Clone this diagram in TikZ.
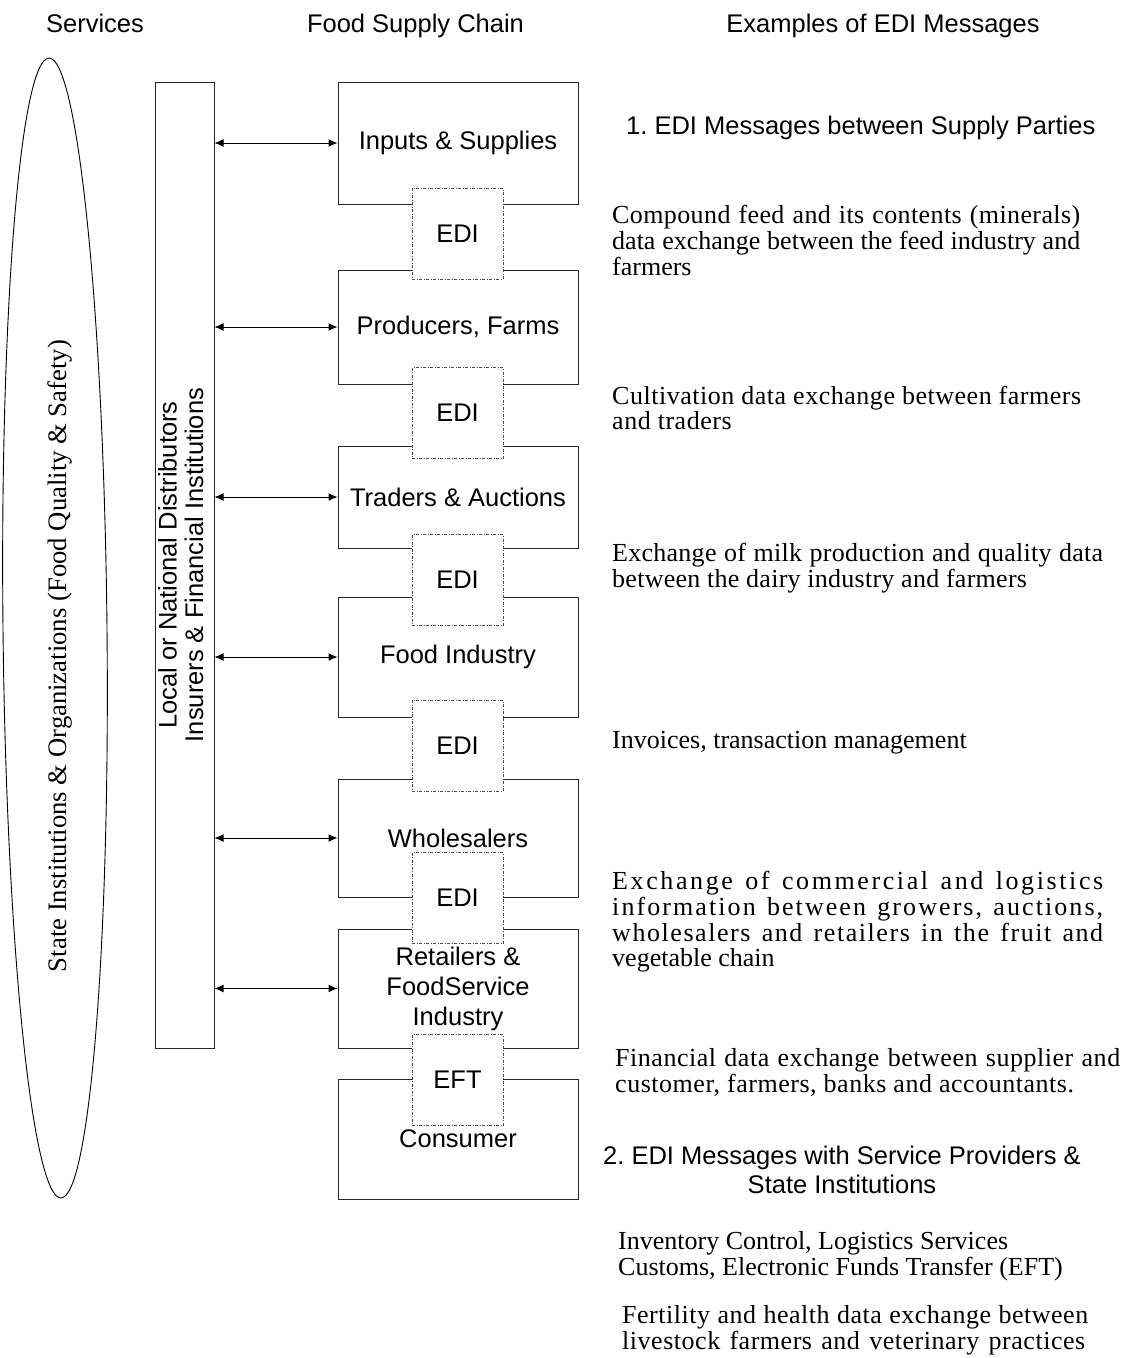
\documentclass[tikz,border=0pt]{standalone}
\usepackage{fontspec}
\usepackage{graphicx}
\setmainfont{Liberation Serif}
\setsansfont{Liberation Sans}
\usetikzlibrary{arrows.meta,shapes.geometric}
\frenchspacing

\newcommand{\sersize}{\fontsize{26}{25.8}\selectfont}
\newcommand{\sanssize}{\sffamily\fontsize{25.5}{29}\selectfont}
\newcommand{\jl}[2]{\makebox[#1][s]{#2}}
\newcommand{\jls}[3]{{\addfontfeature{LetterSpace=#1}\makebox[#2][s]{#3}}}
\newcommand{\stackL}[1]{\begin{tabular}[t]{@{}l@{}}#1\end{tabular}}
\newcommand{\stackC}[1]{\begin{tabular}[t]{@{}c@{}}#1\end{tabular}}

\tikzset{
  chainbox/.style={draw=black!85, line width=1pt, minimum width=240pt, font=\sanssize,
    align=center, inner sep=0pt, fill=white},
  edibox/.style={draw=black!70, line width=0.8pt,
    dash pattern=on 3pt off 1.5pt on 1pt off 1.5pt, fill=white,
    minimum width=91pt, minimum height=91pt, font=\sanssize, inner sep=0pt},
  link/.style={{Latex[length=9pt,width=8pt]}-{Latex[length=9pt,width=8pt]}, line width=1pt},
  txt/.style={inner sep=0pt, anchor=base west, font=\sersize},
  head/.style={inner sep=0pt, anchor=base, font=\sanssize},
}

\begin{document}
\begin{tikzpicture}[x=1pt,y=-1pt]
\useasboundingbox (0,0) rectangle (1130,1358);

% headers
\node[head] (hserv) at (95,32) {Services};
\node[head] (hchain) at (415.5,32) {Food Supply Chain};
\node[head] (hex) at (883,32) {Examples of EDI Messages};

% state institutions ellipse
\node[draw, ellipse, minimum width=104pt, minimum height=1140pt, inner sep=0pt,
  line width=0.9pt, rotate=0.6] (stateell) at (55,628) {};
\node[rotate=90, font=\fontsize{26.7}{28}\selectfont, inner sep=0pt] (statetxt) at (60,656)
  {State Institutions \& Organizations (Food Quality \& Safety)};

% distributors box
\node[draw=black!85, line width=1pt, minimum width=59pt, minimum height=966pt,
  inner sep=0pt] (dist) at (184.5,565)
  {\rotatebox{90}{\sffamily\fontsize{25.5}{26.5}\selectfont
   \stackC{Local or National Distributors\\Insurers \& Financial Institutions}}};

% supply chain
\node[chainbox, minimum height=122pt] (inputs) at (458,143) {Inputs \& Supplies};
\node[chainbox, minimum height=114pt] (producers) at (458,327) {Producers, Farms};
\node[chainbox, minimum height=102pt] (traders) at (458,497) {Traders \& Auctions};
\node[chainbox, minimum height=120pt] (foodind) at (458,657) {Food Industry};
\node[chainbox, minimum height=118pt] (wholesale) at (458,838) {Wholesalers};
\node[chainbox, minimum height=119pt, font=\sffamily\fontsize{25.5}{30}\selectfont]
  (retail) at (458,988.5) {Retailers \&\\FoodService\\Industry};
\node[chainbox, minimum height=120pt] (consumer) at (458,1139) {Consumer};

% EDI boxes
\node[edibox] (edi1) at (457.5,233.5) {EDI};
\node[edibox] (edi2) at (457.5,413) {EDI};
\node[edibox] (edi3) at (457.5,580) {EDI};
\node[edibox] (edi4) at (457.5,745.5) {EDI};
\node[edibox] (edi5) at (457.5,898) {EDI};
\node[edibox] (eft) at (457.5,1080) {EFT};

% arrows
\foreach \n in {inputs,producers,traders,foodind,wholesale,retail}
  \draw[link] (dist.east |- \n.west) -- (\n.west);

% examples
\node[txt, font=\sanssize] (sec1) at (626,134) {1. EDI Messages between Supply Parties};
\node[txt] (ex1) at (612,223) {\stackL{\jls{1.5}{468pt}{Compound feed and its contents (minerals)}\\
  \jl{468pt}{data exchange between the feed industry and}\\farmers}};
\node[txt] (ex2) at (612,404) {\stackL{\jls{2}{469pt}{Cultivation data exchange between farmers}\\
  {\addfontfeature{LetterSpace=2}and traders}}};
\node[txt] (ex3) at (612,561) {\stackL{\jls{1}{491pt}{Exchange of milk production and quality data}\\
  {\addfontfeature{LetterSpace=1}between the dairy industry and farmers}}};
\node[txt] (ex4) at (612,748) {Invoices, transaction management};
\node[txt] (ex5) at (612,889) {\stackL{%
  \jls{10}{491pt}{Exchange of commercial and logistics}\\
  \jls{8}{491pt}{information between growers, auctions,}\\
  \jls{6}{491pt}{wholesalers and retailers in the fruit and}\\
  vegetable chain}};
\node[txt] (ex6) at (615,1066) {\stackL{\jls{2}{505pt}{Financial data exchange between supplier and}\\
  {\addfontfeature{LetterSpace=2}customer, farmers, banks and accountants.}}};
\node[txt, font=\sanssize, anchor=base] (sec2) at (842,1164)
  {\stackC{2. EDI Messages with Service Providers \&\\State Institutions}};
\node[txt] (ex7) at (618,1249) {\stackL{Inventory Control, Logistics Services\\
  Customs, Electronic Funds Transfer (EFT)}};
\node[txt] (ex8) at (622,1323) {\stackL{\jls{2}{466pt}{Fertility and health data exchange between}\\
  \jls{2}{463pt}{livestock farmers and veterinary practices}}};
\end{tikzpicture}
\end{document}
